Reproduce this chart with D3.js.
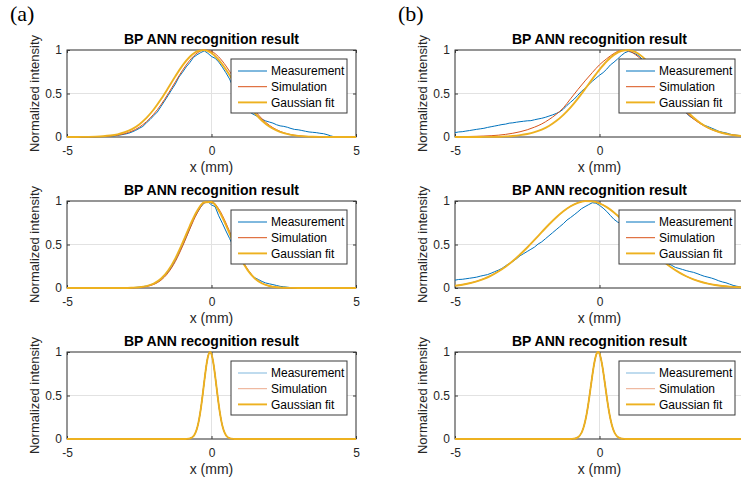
<!DOCTYPE html>
<html>
<head>
<meta charset="utf-8">
<script src="https://cdn.jsdelivr.net/npm/d3@7"></script>
<style>
  body { margin: 0; background: #fff; }
  svg { display: block; }
</style>
</head>
<body>
<svg id="chart" width="741" height="485"></svg>
<script>
// ---- axis ticks and labels ----
const xTicks = [-5, 0, 5];
const yTicks = [0, 0.5, 1];
const xTickLabels = ["-5", "0", "5"];
const yTickLabels = ["0", "0.5", "1"];
const titleText = "BP ANN recognition result";
const xLabelText = "x (mm)";
const yLabelText = "Normalized intensity";
const panelLabels = ["(a)", "(b)"];
const seriesNames = ["Measurement", "Simulation", "Gaussian fit"];

// ---- sample positions (mm) ----
const xGrid = [-5, -4.75, -4.5, -4.25, -4, -3.75, -3.5, -3.25, -3, -2.75, -2.5, -2.25, -2, -1.75, -1.5, -1.25,
  -1, -0.75, -0.5, -0.25, 0, 0.25, 0.5, 0.75, 1, 1.25, 1.5, 1.75, 2, 2.25, 2.5, 2.75, 3, 3.25, 3.5, 3.75,
  4, 4.25, 4.5, 4.75, 5];
const xFine = [
  -5, -4.875, -4.75, -4.625, -4.5, -4.375, -4.25, -4.125,
  -4, -3.875, -3.75, -3.625, -3.5, -3.375, -3.25, -3.125,
  -3, -2.875, -2.75, -2.625, -2.5, -2.375, -2.25, -2.125,
  -2, -1.875, -1.75, -1.625, -1.5, -1.375, -1.25, -1.125,
  -1, -0.875, -0.75, -0.625, -0.5, -0.375, -0.25, -0.125,
  0, 0.125, 0.25, 0.375, 0.5, 0.625, 0.75, 0.875,
  1, 1.125, 1.25, 1.375, 1.5, 1.625, 1.75, 1.875,
  2, 2.125, 2.25, 2.375, 2.5, 2.625, 2.75, 2.875,
  3, 3.125, 3.25, 3.375, 3.5, 3.625, 3.75, 3.875,
  4, 4.125, 4.25, 4.375, 4.5, 4.625, 4.75, 4.875,
  5];
const xNarrow = [-5, -1.05, -1, -0.95, -0.9, -0.85, -0.8, -0.75, -0.7, -0.65, -0.6, -0.55, -0.5, -0.45, -0.4,
  -0.35, -0.3, -0.25, -0.2, -0.15, -0.1, -0.05, 0, 0.05, 0.1, 0.15, 0.2, 0.25, 0.3, 0.35, 0.4, 0.45, 0.5,
  0.55, 0.6, 0.65, 0.7, 0.75, 0.8, 0.85, 0.9, 0.95, 5];

// ---- (a) top ----
const a1Measurement = [
  0, 0, 0, 0, 0, 0, 0, 0.001,
  0.002, 0.003, 0.005, 0.007, 0.01, 0.012, 0.019, 0.025,
  0.033, 0.042, 0.058, 0.076, 0.099, 0.122, 0.163, 0.201,
  0.245, 0.287, 0.35, 0.414, 0.478, 0.545, 0.61, 0.69,
  0.745, 0.806, 0.855, 0.915, 0.945, 0.97, 0.99, 0.962,
  0.925, 0.905, 0.862, 0.803, 0.738, 0.667, 0.572, 0.484,
  0.425, 0.371, 0.318, 0.274, 0.252, 0.231, 0.203, 0.185,
  0.172, 0.16, 0.141, 0.128, 0.122, 0.112, 0.098, 0.087,
  0.083, 0.075, 0.066, 0.058, 0.054, 0.05, 0.043, 0.038,
  0.027, 0.013, 0.002, 0, 0, 0, 0, 0,
  0];
const a1Simulation = [0, 0.0002, 0.0005, 0.0012, 0.0026, 0.0055, 0.011, 0.021, 0.039, 0.068, 0.112, 0.176, 0.262,
  0.37, 0.497, 0.634, 0.768, 0.882, 0.964, 0.999, 0.984, 0.92, 0.817, 0.689, 0.552, 0.419, 0.303, 0.208, 0.135,
  0.084, 0.049, 0.027, 0.015, 0.007, 0.0035, 0.0016, 0.0007, 0.0003, 0, 0, 0];
const a1Gaussian = [0, 0.0004, 0.0009, 0.002, 0.0043, 0.0087, 0.0169, 0.031, 0.055, 0.091, 0.145, 0.22, 0.316,
  0.433, 0.563, 0.698, 0.823, 0.922, 0.984, 0.999, 0.965, 0.886, 0.775, 0.644, 0.51, 0.384, 0.275, 0.187, 0.121,
  0.075, 0.044, 0.025, 0.013, 0.0066, 0.0032, 0.0015, 0.0006, 0.0002, 0.0001, 0, 0];

// ---- (a) middle ----
const a2Measurement = [
  0, 0, 0, 0, 0, 0, 0, 0,
  0, 0, 0, 0, 0, 0, 0, 0.001,
  0.002, 0.003, 0.004, 0.007, 0.01, 0.016, 0.022, 0.034,
  0.046, 0.066, 0.095, 0.138, 0.185, 0.242, 0.318, 0.405,
  0.49, 0.585, 0.685, 0.79, 0.862, 0.93, 0.98, 0.992,
  0.955, 0.935, 0.83, 0.745, 0.655, 0.57, 0.478, 0.395,
  0.335, 0.274, 0.212, 0.157, 0.118, 0.097, 0.075, 0.058,
  0.048, 0.039, 0.029, 0.019, 0.014, 0.009, 0.004, 0.001,
  0, 0, 0, 0, 0, 0, 0, 0,
  0, 0, 0, 0, 0, 0, 0, 0,
  0];
const a2Simulation = [0, 0, 0, 0, 0, 0, 0, 0, 0, 0.002, 0.0063, 0.017, 0.041, 0.089, 0.175, 0.306, 0.481, 0.678,
  0.858, 0.975, 0.994, 0.91, 0.747, 0.551, 0.364, 0.216, 0.115, 0.055, 0.024, 0.009, 0.003, 0.001,
  0, 0, 0, 0, 0, 0, 0, 0, 0];
const a2Gaussian = [0, 0, 0, 0, 0, 0, 0, 0, 0, 0.003, 0.0084, 0.0218, 0.051, 0.106, 0.201, 0.341, 0.52, 0.715,
  0.885, 0.986, 0.988, 0.891, 0.723, 0.528, 0.347, 0.205, 0.109, 0.052, 0.023, 0.0088, 0.003, 0.001,
  0, 0, 0, 0, 0, 0, 0, 0, 0];

// ---- (a) bottom ----
const a3Gaussian = [0, 0, 0.0001, 0.0002, 0.0006, 0.0013, 0.003, 0.0063, 0.0127, 0.0243, 0.0439, 0.0756, 0.1234,
  0.1915, 0.282, 0.3947, 0.5243, 0.6615, 0.7926, 0.9019, 0.9745, 1, 0.9745, 0.9019, 0.7926, 0.6615, 0.5243,
  0.3947, 0.282, 0.1915, 0.1234, 0.0756, 0.0439, 0.0243, 0.0127, 0.0063, 0.003, 0.0013, 0.0006, 0.0002,
  0.0001, 0, 0];
const a3Simulation = a3Gaussian;
const a3Measurement = a3Gaussian;

// ---- (b) top ----
const b1Measurement = [
  0.05, 0.058, 0.061, 0.068, 0.074, 0.081, 0.088, 0.094,
  0.1, 0.11, 0.118, 0.126, 0.134, 0.143, 0.148, 0.159,
  0.163, 0.17, 0.176, 0.181, 0.186, 0.188, 0.198, 0.207,
  0.215, 0.226, 0.24, 0.254, 0.27, 0.29, 0.32, 0.364,
  0.4, 0.436, 0.48, 0.525, 0.56, 0.602, 0.64, 0.675,
  0.71, 0.74, 0.78, 0.828, 0.86, 0.897, 0.935, 0.968,
  0.985, 0.972, 0.955, 0.928, 0.885, 0.837, 0.79, 0.733,
  0.675, 0.612, 0.56, 0.508, 0.45, 0.397, 0.355, 0.313,
  0.275, 0.237, 0.21, 0.185, 0.16, 0.135, 0.12, 0.103,
  0.085, 0.066, 0.055, 0.047, 0.035, 0.024, 0.02, 0.016,
  0.012];
const b1Simulation = [0.003, 0.004, 0.006, 0.008, 0.011, 0.015, 0.021, 0.03, 0.043, 0.06, 0.083, 0.113, 0.15,
  0.2, 0.26, 0.335, 0.44, 0.545, 0.645, 0.74, 0.83, 0.9, 0.96, 0.995, 0.99, 0.945, 0.875, 0.785, 0.68, 0.57,
  0.465, 0.365, 0.28, 0.208, 0.15, 0.104, 0.07, 0.046, 0.029, 0.018, 0.011];
const b1Gaussian = [0, 0.0001, 0.0002, 0.0005, 0.001, 0.0019, 0.0037, 0.0068, 0.0122, 0.0209, 0.0346, 0.0553,
  0.0854, 0.127, 0.183, 0.255, 0.341, 0.442, 0.552, 0.666, 0.775, 0.871, 0.944, 0.989, 0.999, 0.975, 0.918,
  0.835, 0.732, 0.62, 0.507, 0.4, 0.305, 0.224, 0.159, 0.109, 0.072, 0.046, 0.028, 0.017, 0.0097];

// ---- (b) middle ----
const b2Measurement = [
  0.09, 0.098, 0.1, 0.106, 0.112, 0.118, 0.125, 0.136,
  0.145, 0.154, 0.17, 0.188, 0.205, 0.225, 0.255, 0.281,
  0.305, 0.335, 0.37, 0.395, 0.42, 0.445, 0.47, 0.505,
  0.53, 0.565, 0.6, 0.635, 0.67, 0.705, 0.74, 0.781,
  0.81, 0.842, 0.875, 0.911, 0.935, 0.958, 0.98, 0.975,
  0.95, 0.918, 0.88, 0.834, 0.79, 0.758, 0.74, 0.705,
  0.67, 0.635, 0.6, 0.561, 0.52, 0.485, 0.45, 0.411,
  0.37, 0.329, 0.3, 0.281, 0.26, 0.237, 0.225, 0.213,
  0.2, 0.189, 0.18, 0.166, 0.15, 0.135, 0.125, 0.114,
  0.1, 0.083, 0.07, 0.06, 0.045, 0.03, 0.02, 0.013,
  0.005];
const b2Simulation = [0.0257, 0.0379, 0.0546, 0.077, 0.106, 0.143, 0.19, 0.245, 0.31, 0.385, 0.466, 0.553, 0.642,
  0.73, 0.811, 0.882, 0.94, 0.979, 0.998, 0.996, 0.973, 0.93, 0.869, 0.795, 0.712, 0.624, 0.536, 0.449, 0.369,
  0.297, 0.233, 0.18, 0.135, 0.0998, 0.072, 0.0508, 0.0351, 0.0237, 0.0157, 0.0102, 0.0064];
const b2Gaussian = [0.0257, 0.0379, 0.0546, 0.077, 0.106, 0.143, 0.19, 0.245, 0.31, 0.385, 0.466, 0.553, 0.642,
  0.73, 0.811, 0.882, 0.94, 0.979, 0.998, 0.996, 0.973, 0.93, 0.869, 0.795, 0.712, 0.624, 0.536, 0.449, 0.369,
  0.297, 0.233, 0.18, 0.135, 0.0998, 0.072, 0.0508, 0.0351, 0.0237, 0.0157, 0.0102, 0.0064];

// ---- (b) bottom ----
const b3Gaussian = [0, 0.0003, 0.0007, 0.0015, 0.003, 0.006, 0.011, 0.02, 0.034, 0.056, 0.089, 0.135, 0.198,
  0.278, 0.375, 0.487, 0.607, 0.726, 0.835, 0.923, 0.98, 1, 0.98, 0.923, 0.835, 0.726, 0.607, 0.487, 0.375,
  0.278, 0.198, 0.135, 0.089, 0.056, 0.034, 0.02, 0.011, 0.006, 0.003, 0.0015, 0.0007, 0.0003, 0];
const b3Simulation = b3Gaussian;
const b3Measurement = b3Gaussian;

const panels = [
  { col: 0, row: 0, xs: [xFine, xGrid, xGrid], series: [a1Measurement, a1Simulation, a1Gaussian] },
  { col: 0, row: 1, xs: [xFine, xGrid, xGrid], series: [a2Measurement, a2Simulation, a2Gaussian] },
  { col: 0, row: 2, xs: [xNarrow, xNarrow, xNarrow], series: [a3Measurement, a3Simulation, a3Gaussian], faintKey: true },
  { col: 1, row: 0, xs: [xFine, xGrid, xGrid], series: [b1Measurement, b1Simulation, b1Gaussian] },
  { col: 1, row: 1, xs: [xFine, xGrid, xGrid], series: [b2Measurement, b2Simulation, b2Gaussian] },
  { col: 1, row: 2, xs: [xNarrow, xNarrow, xNarrow], series: [b3Measurement, b3Simulation, b3Gaussian], faintKey: true }
];

// ---- styling / layout ----
const seriesColors = ["#0072BD", "#D95319", "#EDB120"];
const seriesWidths = [1, 1, 1.9];
const sans = "'Liberation Sans', Arial, sans-serif";
const colLeft = [67, 455];
const rowTop = [50, 201, 352];
const W = 289, H = 87;
const axisColor = "#3a3a3a";
const gridColor = "#e2e2e2";
const pageWidth = 741;

const svg = d3.select("#chart");

panels.forEach(p => {
  const left = colLeft[p.col], top = rowTop[p.row];
  const x = d3.scaleLinear().domain([-5, 5]).range([left, left + W]);
  const y = d3.scaleLinear().domain([0, 1]).range([top + H, top]);
  const g = svg.append("g");

  // grid lines
  g.selectAll(".gx").data(xTicks).enter().append("line")
    .attr("x1", d => x(d)).attr("x2", d => x(d))
    .attr("y1", top).attr("y2", top + H)
    .attr("stroke", gridColor).attr("stroke-width", 1);
  g.selectAll(".gy").data(yTicks).enter().append("line")
    .attr("x1", left).attr("x2", left + W)
    .attr("y1", d => y(d)).attr("y2", d => y(d))
    .attr("stroke", gridColor).attr("stroke-width", 1);

  // axes with inward ticks
  const styleAxis = sel => {
    sel.select(".domain").remove();
    sel.selectAll(".tick line").attr("stroke", axisColor);
    sel.selectAll(".tick text").attr("fill", "#262626")
      .style("font-family", sans).style("font-size", "12px");
  };
  // tick labels only where they fall on the page
  const labelled = xTicks.filter(t => x(t) + 4 <= pageWidth);
  g.append("g").attr("transform", `translate(0,${top + H})`)
    .call(d3.axisBottom(x).tickValues(labelled)
      .tickFormat(d => xTickLabels[xTicks.indexOf(d)]).tickSize(-3).tickPadding(9))
    .call(styleAxis);
  g.append("g").attr("transform", `translate(0,${top})`)
    .call(d3.axisTop(x).tickValues(xTicks).tickFormat("").tickSize(-3))
    .call(styleAxis);
  g.append("g").attr("transform", `translate(${left},0)`)
    .call(d3.axisLeft(y).tickValues(yTicks).tickFormat((d, i) => yTickLabels[i]).tickSize(-3).tickPadding(5))
    .call(styleAxis);
  g.append("g").attr("transform", `translate(${left + W},0)`)
    .call(d3.axisRight(y).tickValues(yTicks).tickFormat("").tickSize(-3))
    .call(styleAxis);

  // axes box
  g.append("rect").attr("x", left).attr("y", top).attr("width", W).attr("height", H)
    .attr("fill", "none").attr("stroke", axisColor).attr("stroke-width", 1);

  // data lines
  p.series.forEach((vals, si) => {
    const xs = p.xs[si];
    const line = d3.line()
      .x((d, i) => x(xs[i]))
      .y(d => y(d))
      .curve(si === 0 && xs === xFine ? d3.curveLinear : d3.curveMonotoneX);
    g.append("path").datum(vals)
      .attr("d", line)
      .attr("fill", "none")
      .attr("stroke", seriesColors[si])
      .attr("stroke-width", seriesWidths[si])
      .attr("stroke-linejoin", "round");
  });

  // title
  g.append("text").attr("x", left + W / 2).attr("y", top - 6)
    .attr("text-anchor", "middle")
    .style("font-family", sans).style("font-size", "14px").style("font-weight", "bold")
    .attr("fill", "#000").text(titleText);

  // axis labels
  g.append("text").attr("x", left + W / 2).attr("y", top + H + 35)
    .attr("text-anchor", "middle")
    .style("font-family", sans).style("font-size", "14px")
    .attr("fill", "#262626").text(xLabelText);
  g.append("text")
    .attr("transform", `translate(${left - 28},${top + H / 2}) rotate(-90)`)
    .attr("text-anchor", "middle")
    .style("font-family", sans).style("font-size", "13px")
    .attr("fill", "#262626").text(yLabelText);

  // legend
  const lw = 116, lh = 54;
  const lx = left + W - 9 - lw, ly = top + 9;
  const lg = g.append("g");
  lg.append("rect").attr("x", lx).attr("y", ly).attr("width", lw).attr("height", lh)
    .attr("fill", "#fff").attr("stroke", axisColor).attr("stroke-width", 1);
  seriesNames.forEach((name, si) => {
    const cy = ly + 12 + si * 15.7;
    lg.append("line")
      .attr("x1", lx + 7).attr("x2", lx + 36).attr("y1", cy).attr("y2", cy)
      .attr("stroke", seriesColors[si]).attr("stroke-width", seriesWidths[si])
      .attr("stroke-opacity", p.faintKey && si < 2 ? 0.5 : 1);
    lg.append("text").attr("x", lx + 40).attr("y", cy).attr("dy", "0.35em")
      .style("font-family", sans).style("font-size", "12px")
      .attr("fill", "#000").text(name);
  });
});

// panel letters
svg.selectAll(".panel-label").data(panelLabels).enter().append("text")
  .attr("x", (d, i) => i === 0 ? 10 : 398)
  .attr("y", 21)
  .style("font-family", "'Liberation Serif', 'Times New Roman', serif")
  .style("font-size", "22px")
  .attr("fill", "#000")
  .text(d => d);
</script>
</body>
</html>
